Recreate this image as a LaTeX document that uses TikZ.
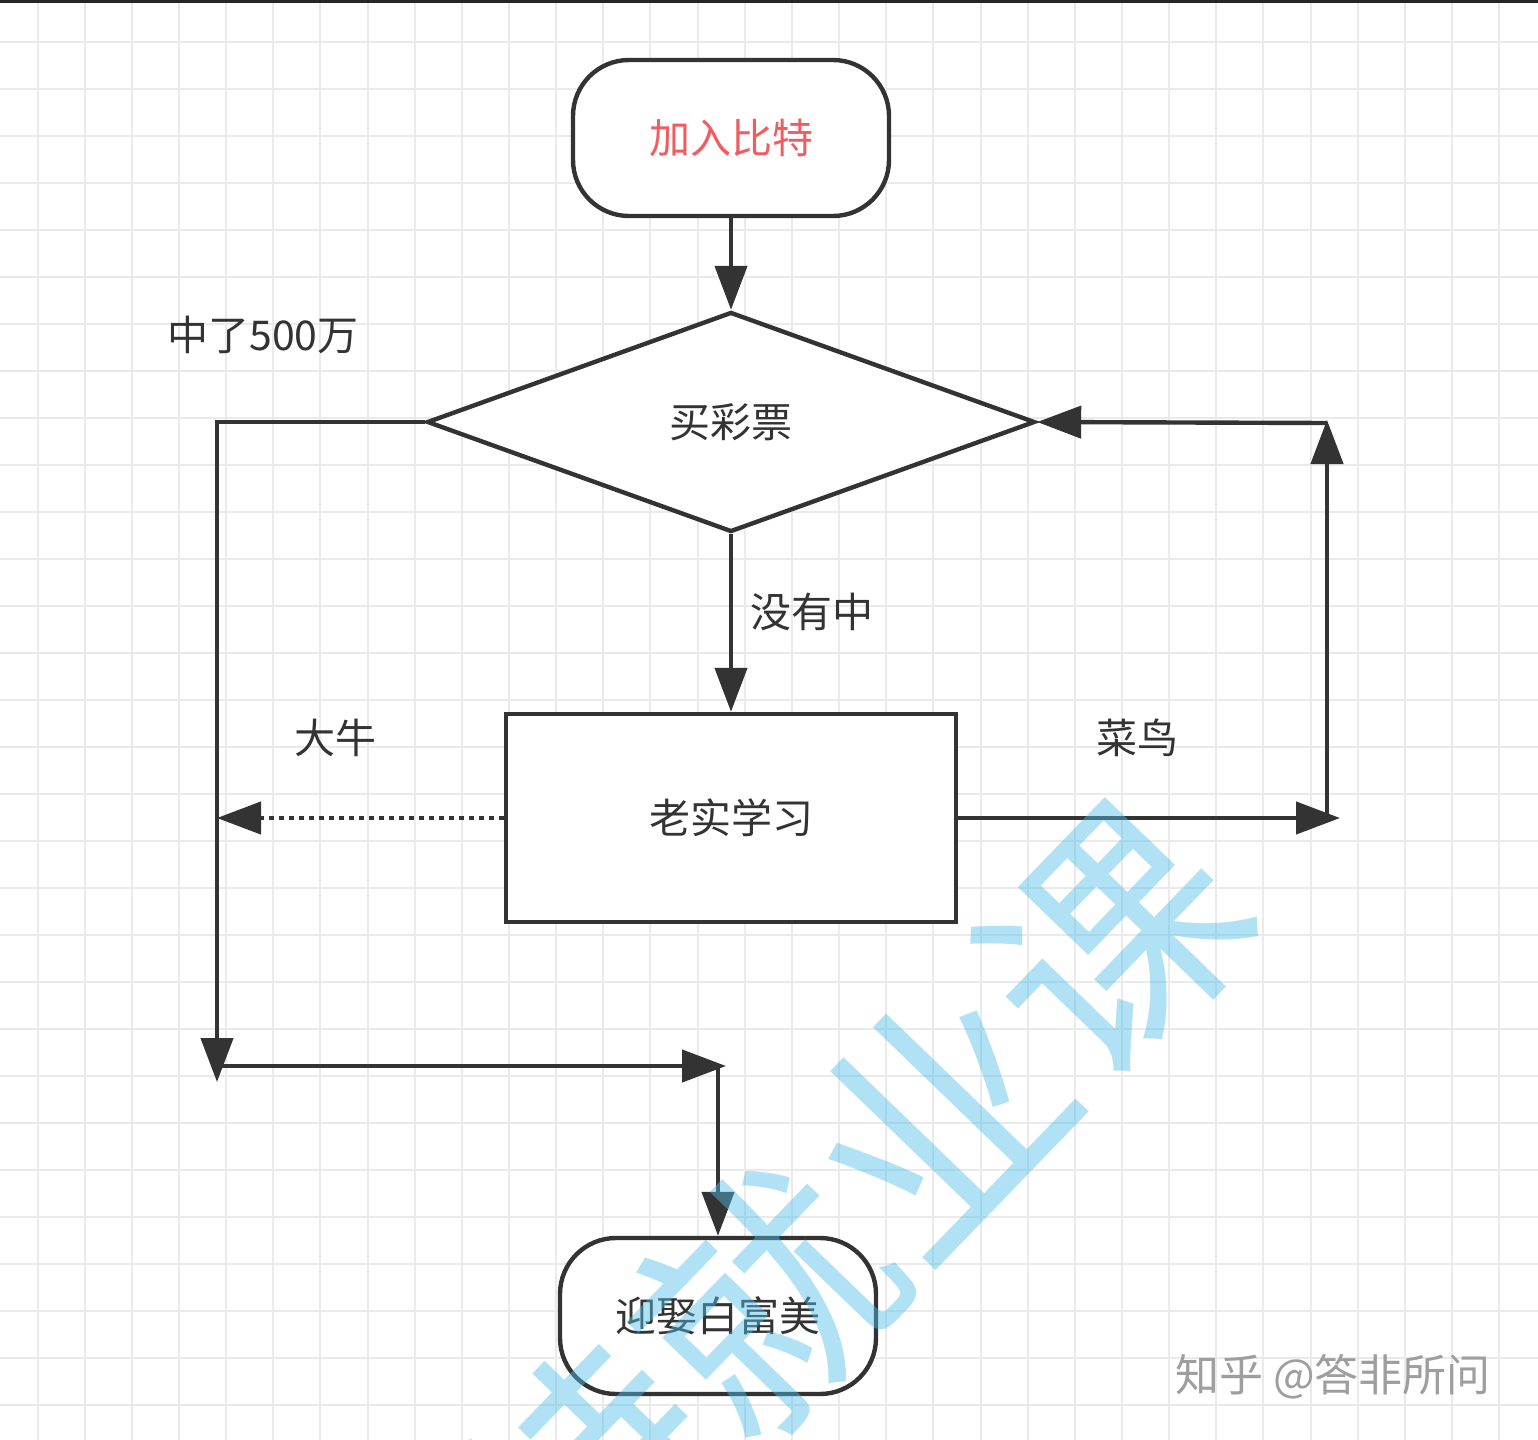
\documentclass[tikz,border=0pt]{standalone}
\usepackage{fontspec}
\usepackage{tikz}
\usetikzlibrary{shapes.geometric,arrows.meta}
\newfontfamily\cjk{Noto Sans CJK SC}
\definecolor{ink}{RGB}{51,51,51}
\definecolor{startred}{RGB}{242,92,96}
\definecolor{gridgray}{RGB}{234,234,234}
\definecolor{wmblue}{RGB}{80,190,235}

\tikzset{
  flowline/.style={draw=ink,line width=2.2pt},
  arr/.style={flowline,-{Triangle[length=22pt,width=16pt]}},
  dotline/.style={arr,dash pattern=on 2.2pt off 2.8pt},
  terminal/.style={draw=ink,line width=2.2pt,fill=white,rounded corners=28pt,
    minimum width=158pt,minimum height=78pt,text=ink,
    font=\cjk\fontsize{20.5}{24}\selectfont},
  decision/.style={diamond,draw=ink,line width=2.2pt,fill=white,aspect=2.75,
    minimum width=304pt,minimum height=110pt,inner sep=0pt,text=ink,
    font=\cjk\fontsize{20.5}{24}\selectfont},
  process/.style={draw=ink,line width=2.2pt,fill=white,
    minimum width=225pt,minimum height=104pt,text=ink,
    font=\cjk\fontsize{20.5}{24}\selectfont},
  edgelabel/.style={text=ink,font=\cjk\fontsize{20.5}{24}\selectfont},
  gridline/.style={draw=gridgray,line width=1pt}
}

\begin{document}
\begin{tikzpicture}[x=0.5pt,y=-0.5pt]
\useasboundingbox (0,0) rectangle (1538,1440);
\fill[white] (0,0) rectangle (1538,1440);
% background grid
\foreach \gx in {0,...,31} \draw[gridline] ({37.5+47.15*\gx},0) -- ({37.5+47.15*\gx},1440);
\foreach \gy in {0,...,29} \draw[gridline] (0,{42+47*\gy}) -- (1538,{42+47*\gy});
\fill[black!85] (0,0) rectangle (1538,3);

% boxes
\node[terminal,text=startred] (join) at (731,138) {加入比特};
\node[decision] (lottery) at (731,422) {买彩票};
\node[process] (study) at (731,818) {老实学习};
\node[terminal] (marry) at (718,1316) {迎娶白富美};

% turning points
\coordinate (winDown) at (217,1082);
\coordinate (mergeL) at (217,1066);
\coordinate (mergeR) at (726,1066);
\coordinate (mergeTop) at (718,1066);
\coordinate (expertL) at (217,818);
\coordinate (rookieR) at (1340,818);
\coordinate (loopB) at (1327,818);
\coordinate (loopT) at (1327,420);
\coordinate (loopIn) at (1327,423);

% connectors
\draw[arr] (join) -- (lottery);
\draw[arr] (lottery.west) -| (winDown);
\draw[arr] (mergeL) -- (mergeR);
\draw[arr] (mergeTop) -- (marry.north);
\draw[arr] (lottery) -- (study);
\draw[dotline] (study.west) -- (expertL);
\draw[arr] (study.east) -- (rookieR);
\draw[arr] (loopB) -- (loopT);
\draw[arr] (loopIn) -- (lottery.east);

% labels
\node[edgelabel] (winLbl) at (263,335) {中了500万};
\node[edgelabel] (missLbl) at (812,612) {没有中};
\node[edgelabel] (expertLbl) at (335,738) {大牛};
\node[edgelabel] (rookieLbl) at (1137,738) {菜鸟};

% watermarks
\node[text=wmblue,opacity=0.45,rotate=46,font=\cjk\fontsize{125}{130}\selectfont] (wm) at (765,1300) {比特就业课};
\node[text=black!38,font=\cjk\fontsize{22}{26}\selectfont] (zhihu) at (1333,1377) {知乎 @答非所问};
\end{tikzpicture}
\end{document}
